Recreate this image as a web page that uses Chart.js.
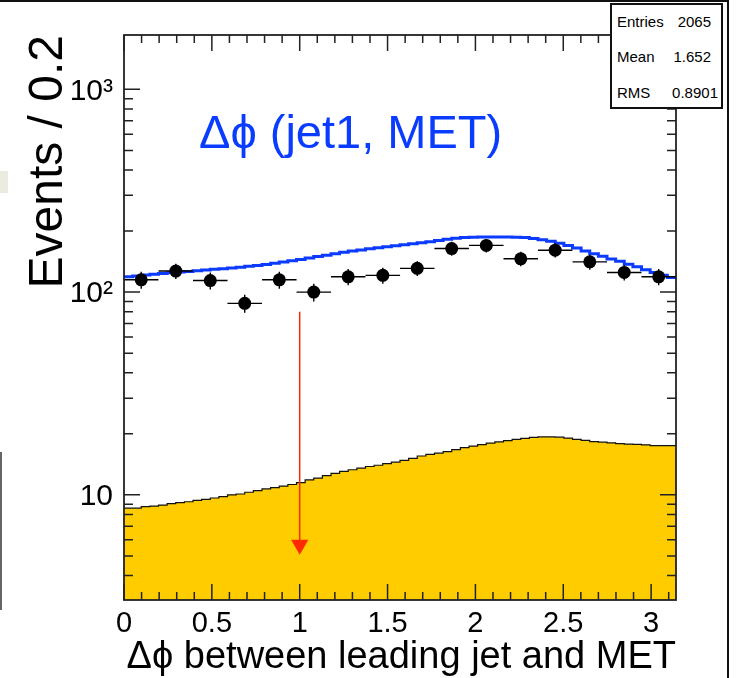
<!DOCTYPE html>
<html><head><meta charset="utf-8">
<script src="https://cdn.jsdelivr.net/npm/chart.js@4.4.1/dist/chart.umd.min.js"></script>
<style>
html,body{margin:0;padding:0;background:#fff;}
#wrap{position:relative;width:736px;height:678px;overflow:hidden;background:#fff;}
canvas{position:absolute;left:0;top:0;}
.t{position:absolute;font-family:"Liberation Sans",Arial,sans-serif;white-space:nowrap;line-height:1;color:#000;}
</style></head><body>
<div id="wrap">
<canvas id="c" width="736" height="678"></canvas>
<div class="t" style="left:199px;top:108px;font-size:47px;color:#0a3cff;">Δϕ (jet1, MET)</div>
<div style="position:absolute;left:610px;top:3px;width:109px;height:102px;border:2px solid #111;background:#fff;"></div>
<div class="t" style="left:617px;top:14px;font-size:15px;">Entries</div>
<div class="t" style="left:617px;top:49px;font-size:15px;">Mean</div>
<div class="t" style="left:617px;top:85px;font-size:15px;">RMS</div>
<div class="t" style="right:25px;top:14px;font-size:15px;">2065</div>
<div class="t" style="right:25px;top:49px;font-size:15px;">1.652</div>
<div class="t" style="right:18px;top:85px;font-size:15px;">0.8901</div>
<div style="position:absolute;left:0;top:0;width:728px;height:2px;background:#111;"></div>
<div style="position:absolute;left:727px;top:0;width:2px;height:678px;background:#111;"></div>
<div style="position:absolute;left:0;top:171px;width:8px;height:22px;background:#ebebdf;"></div>
<div style="position:absolute;left:0;top:452px;width:1.5px;height:158px;background:#666;"></div>
</div>
<script>
// ---- data ----
const binCenters = [0.098,0.295,0.491,0.687,0.884,1.080,1.276,1.473,1.669,1.865,2.062,2.258,2.454,2.651,2.847,3.043];
const dataCounts = [115,127,114,88,115,100,119,121,131,164,170,146,161,141,125,119];
const dataErrors = [11,11,11,9,11,10,11,11,11,13,13,12,13,12,11,11];
const mcTotal = [119,120,121.6,122.6,123.6,124.6,125.6,126.4,127.4,128.5,129.5,130.5,131.5,132.8,134,135.4,
  136.9,138.9,140.9,142.8,144.8,147.3,149.7,152.2,154.6,157.1,159.6,161.5,163.5,165.5,167.5,169.4,
  171.4,173.4,175.3,177.3,179.8,182.2,184.2,185.7,186.7,187.2,187.2,187.2,187.2,186.7,185.7,183.7,
  181.2,178.3,174.3,169.9,165,159.6,154.6,150.2,145.8,141.8,137.4,133.5,129,125.1,121.2,118.2];
const mcBackground = [8.6,8.6,8.75,8.8,8.9,9.05,9.15,9.25,9.4,9.5,9.65,9.8,10.0,10.1,10.3,10.5,
  10.7,10.85,11.05,11.25,11.5,11.85,12.1,12.45,12.75,13.05,13.3,13.55,13.8,14.0,14.25,14.5,
  14.8,15.15,15.55,15.85,16.05,16.35,16.7,17.1,17.4,17.7,18.0,18.25,18.5,18.8,19.0,19.2,
  19.3,19.3,19.25,19.05,18.8,18.55,18.3,18.2,18.05,17.9,17.8,17.75,17.65,17.5,17.5,17.5];
const xTickValues = [0,0.5,1,1.5,2,2.5,3];
const xTickLabels = ['0','0.5','1','1.5','2','2.5','3'];
const yTickValues = [10,100,1000];
const yTickLabels = ['10','10²','10³'];
const xMin = 0, xMax = Math.PI;
const yMin = 3.03, yMax = 1854;
const cutX = 1, cutFrom = 80, cutTo = 5.67;

const FONT = '"Liberation Sans", Arial, sans-serif';

function stepPoints(vals){
  const w = (xMax - xMin) / vals.length;
  const pts = vals.map((v,i)=>({x:xMin + i*w, y:v}));
  pts.push({x:xMax, y:vals[vals.length-1]});
  return pts;
}

const errorBars = {
  id:'errorBars',
  beforeDatasetDraw(chart, args){
    if (chart.data.datasets[args.index].label !== 'Data') return;
    const xs = chart.scales.x, ys = chart.scales.y, ctx = chart.ctx;
    const hw = (xMax - xMin) / dataCounts.length / 2;
    ctx.save();
    ctx.strokeStyle = '#000'; ctx.lineWidth = 1.4;
    ctx.beginPath();
    dataCounts.forEach((v,i)=>{
      const cx = binCenters[i];
      const px = xs.getPixelForValue(cx), py = ys.getPixelForValue(v);
      ctx.moveTo(xs.getPixelForValue(cx-hw), py); ctx.lineTo(xs.getPixelForValue(cx+hw), py);
      ctx.moveTo(px, ys.getPixelForValue(v+dataErrors[i])); ctx.lineTo(px, ys.getPixelForValue(v-dataErrors[i]));
    });
    ctx.stroke();
    ctx.restore();
  }
};

const rootFrame = {
  id:'rootFrame',
  afterDatasetsDraw(chart){
    const ctx = chart.ctx, a = chart.chartArea, xs = chart.scales.x, ys = chart.scales.y;
    ctx.save();
    ctx.strokeStyle = '#222'; ctx.lineWidth = 1.5;
    ctx.beginPath();
    for (let k = 0; k <= 31; k++){
      const v = k*0.1; const major = k % 5 === 0; const L = major ? 16 : 8;
      const px = xs.getPixelForValue(v);
      ctx.moveTo(px, a.bottom); ctx.lineTo(px, a.bottom - L);
      ctx.moveTo(px, a.top); ctx.lineTo(px, a.top + L);
    }
    [1,10,100,1000].forEach(d=>{
      for (let m = 1; m <= 9; m++){
        const v = m*d; if (v < yMin || v > yMax) continue;
        const L = m === 1 ? 16 : 9;
        const py = ys.getPixelForValue(v);
        ctx.moveTo(a.left, py); ctx.lineTo(a.left + L, py);
        ctx.moveTo(a.right, py); ctx.lineTo(a.right - L, py);
      }
    });
    ctx.stroke();
    ctx.lineWidth = 1.8;
    ctx.strokeRect(a.left, a.top, a.right - a.left, a.bottom - a.top);
    ctx.restore();
  }
};

new Chart(document.getElementById('c'), {
  data: {
    datasets: [
      { type:'line', label:'Background', data: stepPoints(mcBackground), stepped:true, fill:'start',
        backgroundColor:'#ffcc00', borderColor:'#111', borderWidth:1.2, pointRadius:0, order:4 },
      { type:'line', label:'MC total', data: stepPoints(mcTotal), stepped:true, fill:false,
        borderColor:'#0b3bff', borderWidth:3, pointRadius:0, order:3 },
      { type:'scatter', label:'Data', data: binCenters.map((x,i)=>({x:x, y:dataCounts[i]})),
        pointRadius:6.5, pointBackgroundColor:'#000', pointBorderWidth:0, order:2 },
      { type:'line', label:'Cut', data:[{x:cutX,y:cutFrom},{x:cutX,y:cutTo}],
        borderColor:'#ff2a00', borderWidth:1.5, pointRadius:[0,10], pointStyle:'triangle', pointRotation:180,
        pointBackgroundColor:'#ff2a00', pointBorderWidth:0, order:1 }
    ]
  },
  options: {
    responsive:false, animation:false, devicePixelRatio:1,
    layout:{ padding:{ left:0, top:35, right:60, bottom:0 } },
    plugins:{ legend:{display:false}, tooltip:{enabled:false} },
    scales:{
      x:{ type:'linear', min:xMin, max:xMax,
        grid:{display:false, drawTicks:false}, border:{display:false},
        afterBuildTicks(s){ s.ticks = xTickValues.map(v=>({value:v})); },
        afterFit(s){ s.height = 78; },
        ticks:{ autoSkip:false, maxRotation:0, padding:7, color:'#000', font:{family:FONT, size:29},
          callback:(v)=>xTickLabels[xTickValues.indexOf(v)] },
        title:{ display:true, text:'Δϕ between leading jet and MET', align:'end', color:'#000',
          font:{family:FONT, size:38, lineHeight:1.1}, padding:{top:0, bottom:0} }
      },
      y:{ type:'logarithmic', min:yMin, max:yMax,
        grid:{display:false, drawTicks:false}, border:{display:false},
        afterBuildTicks(s){ s.ticks = yTickValues.map(v=>({value:v})); },
        afterFit(s){ s.width = 124; },
        ticks:{ autoSkip:false, padding:11, labelOffset:2, color:'#000', font:{family:FONT, size:30},
          callback:(v)=>yTickLabels[yTickValues.indexOf(v)] },
        title:{ display:true, text:'Events / 0.2', align:'end', color:'#000',
          font:{family:FONT, size:48}, padding:{top:20, bottom:0} }
      }
    }
  },
  plugins:[errorBars, rootFrame]
});
</script>
</body></html>
